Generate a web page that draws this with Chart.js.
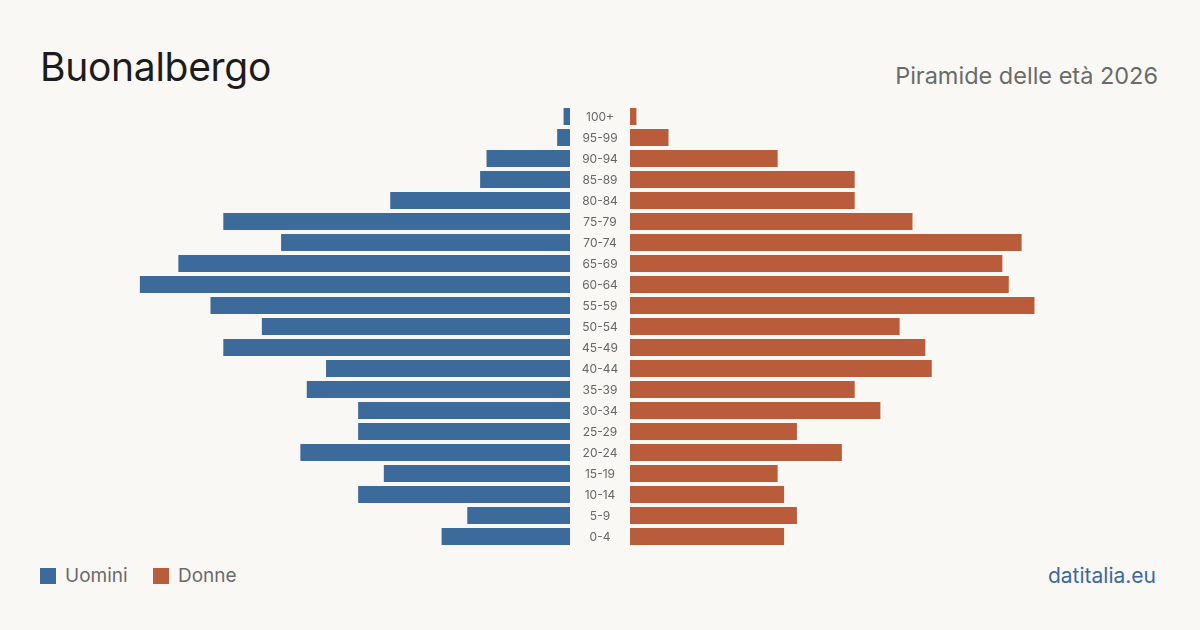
<!DOCTYPE html>
<html>
<head>
<meta charset="utf-8">
<script src="https://cdn.jsdelivr.net/npm/chart.js@4"></script>
<style>
  html, body { margin: 0; padding: 0; }
  body { width: 1200px; height: 630px; background: #f9f8f4; position: relative; overflow: hidden; font-family: Inter, "Noto Sans", sans-serif; }
  .txt { position: absolute; line-height: 1; white-space: nowrap; }
  #title { left: 40px; top: 47px; font-size: 39px; letter-spacing: -0.3px; color: #1c1c1c; }
  #subtitle { right: 42px; top: 64px; font-size: 23.5px; color: #6b6b6b; }
  #source { right: 44px; top: 565px; font-size: 21px; color: #3c6a9b; }
  .legend { position: absolute; top: 566px; font-size: 19px; color: #6b6b6b; line-height: 1; }
  .legend span.box { position: absolute; top: 2px; width: 16px; height: 16px; }
  .chartbox { position: absolute; top: 106px; height: 441px; }
</style>
</head>
<body>
<div class="txt" id="title">Buonalbergo</div>
<div class="txt" id="subtitle">Piramide delle età 2026</div>
<div class="legend" style="left:40px"><span class="box" style="left:0;background:#3c6a9b"></span><span style="margin-left:25px">Uomini</span></div>
<div class="legend" style="left:153px"><span class="box" style="left:0;background:#b95c3c"></span><span style="margin-left:25px">Donne</span></div>
<div class="txt" id="source">datitalia.eu</div>

<div class="chartbox" style="left:28px;width:542px"><canvas id="uomini"></canvas></div>
<div class="chartbox" style="left:570px;width:602px"><canvas id="donne"></canvas></div>

<script>
// fasce d'eta, dall'alto verso il basso
const ages = ['100+','95-99','90-94','85-89','80-84','75-79','70-74','65-69','60-64','55-59','50-54','45-49','40-44','35-39','30-34','25-29','20-24','15-19','10-14','5-9','0-4'];
const men   = [1, 2, 13, 14, 28, 54, 45, 61, 67, 56, 48, 54, 38, 41, 33, 33, 42, 29, 33, 16, 20];
const women = [1, 6, 23, 35, 35, 44, 61, 58, 59, 63, 42, 46, 47, 35, 39, 26, 33, 23, 24, 26, 24];

const blue = '#3c6a9b';
const orange = '#b95c3c';
const scaleMax = 542 / 6.42; // same px per person on both sides

// age labels drawn in the 60px gap left of the women's bars
const ageLabels = {
    id: 'ageLabels',
    afterDatasetsDraw(chart) {
        const ctx = chart.ctx;
        const y = chart.scales.y;
        ctx.save();
        ctx.font = '12px Inter, "Noto Sans", sans-serif';
        ctx.fillStyle = '#666666';
        ctx.textAlign = 'center';
        ctx.textBaseline = 'middle';
        ages.forEach((a, i) => {
            ctx.fillText(a, chart.chartArea.left - 30, y.getPixelForValue(i) + 0.5);
        });
        ctx.restore();
    }
};

const makechart = (canvasid, data, color, reversed, padleft, plugins) => {
    return new Chart(document.getElementById(canvasid), {
        type: 'bar',
        data: {
            labels: ages,
            datasets: [{
                label: canvasid,
                data: data,
                backgroundColor: color,
                borderWidth: 0,
                categoryPercentage: 1,
                barPercentage: 17 / 21
            }]
        },
        options: {
            indexAxis: 'y',
            responsive: true,
            maintainAspectRatio: false,
            animation: false,
            layout: { padding: { left: padleft, right: 0, top: 0, bottom: 0 } },
            scales: {
                x: { display: false, min: 0, max: scaleMax, reverse: reversed },
                y: { display: false }
            },
            plugins: {
                legend: { display: false },
                tooltip: { enabled: false },
                title: { display: false }
            }
        },
        plugins: plugins
    });
}

makechart('uomini', men, blue, true, 0, []);
makechart('donne', women, orange, false, 60, [ageLabels]);
</script>
</body>
</html>
